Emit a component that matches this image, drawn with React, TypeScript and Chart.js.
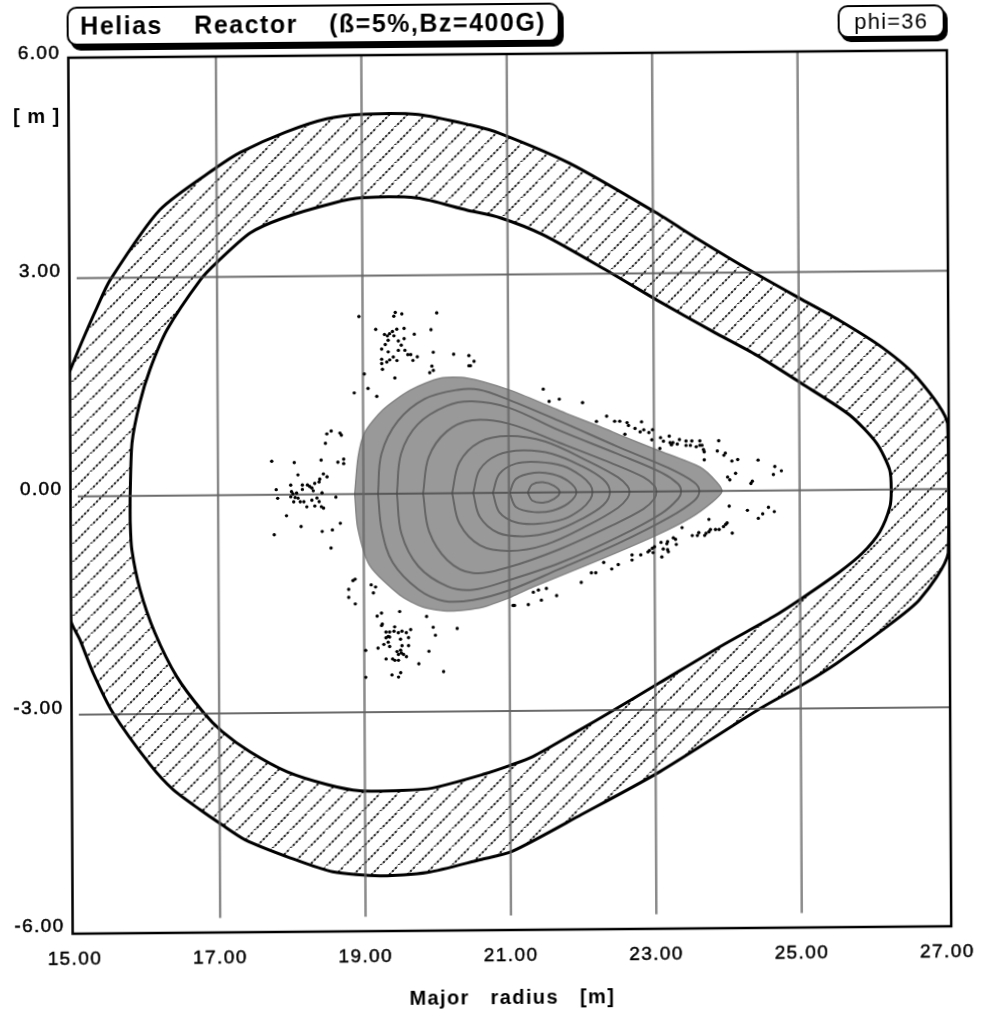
import React, { useEffect, useRef } from "react";
import { Chart, registerables } from "chart.js";

Chart.register(...registerables);

type Pt = [number, number];

const titleText = "Helias   Reactor   (ß=5%,Bz=400G)";
const phiText = "phi=36";
const unitText = "[ m ]";
const xAxisTitle = "Major   radius   [m]";
const xTickValues = [15, 17, 19, 21, 23, 25, 27];
const yTickValues = [6, 3, 0, -3, -6];
const xGridValues = [17, 19, 21, 23, 25];
const yGridValues = [3, 0, -3];

const outerBoundary: Pt[] = [
  [14.96, 1.7], [15.14, 2.13], [15.35, 2.6], [15.53, 2.97], [16.22, 3.93], [17.01, 4.51], [17.33, 4.71], [17.95, 4.98],
  [18.52, 5.16], [19.05, 5.22], [19.78, 5.21], [20.49, 5.06], [20.9, 4.94], [21.86, 4.52], [23.03, 3.84], [23.64, 3.45],
  [24.33, 3.03], [25.01, 2.64], [25.56, 2.33], [26.15, 1.95], [26.62, 1.54], [27.04, 0.9], [27.04, -0.88], [26.64, -1.52],
  [26.13, -1.93], [25.5, -2.38], [25.03, -2.67], [24.45, -2.99], [23.06, -3.85], [21.98, -4.43], [21.02, -4.93], [20.58, -5.04],
  [19.85, -5.21], [19.2, -5.25], [18.55, -5.19], [17.96, -4.99], [17.35, -4.74], [17.03, -4.53], [16.73, -4.32], [16.36, -4.04],
  [16.05, -3.7], [15.54, -2.98], [15.27, -2.43], [15.09, -1.97], [14.96, -1.68], [14.96, 1.7],
];

const innerBoundary: Pt[] = [
  [15.79, -0.01], [15.82, 0.73], [15.93, 1.28], [16.07, 1.73], [16.31, 2.28], [16.77, 2.96], [17.0, 3.2], [17.46, 3.6],
  [17.91, 3.8], [18.6, 4.0], [19.0, 4.07], [19.76, 4.06], [20.44, 3.89], [20.9, 3.78], [21.49, 3.54], [22.4, 3.02],
  [23.05, 2.63], [23.82, 2.19], [24.42, 1.86], [25.03, 1.47], [25.69, 1.03], [26.06, 0.64], [26.24, 0.27], [26.26, -0.01],
  [26.24, -0.24], [26.1, -0.58], [25.86, -0.87], [25.54, -1.13], [25.03, -1.48], [24.62, -1.74], [23.93, -2.12], [23.06, -2.63],
  [22.41, -3.01], [21.92, -3.29], [21.31, -3.63], [21.02, -3.74], [20.62, -3.87], [19.93, -4.05], [19.52, -4.08], [18.93, -4.08],
  [18.48, -3.99], [17.93, -3.81], [17.42, -3.53], [17.04, -3.25], [16.78, -2.98], [16.42, -2.49], [16.12, -1.88], [15.92, -1.29],
  [15.81, -0.74], [15.79, -0.37], [15.79, -0.01],
];

const plasmaEdge: Pt[] = [
  [18.88, 0], [18.93, 0.51], [19.02, 0.84], [19.27, 1.15], [19.65, 1.42], [20.06, 1.58], [20.43, 1.58], [21.02, 1.41],
  [21.57, 1.18], [21.8, 1.08], [22.25, 0.9], [22.6, 0.75], [23.04, 0.57], [23.63, 0.33], [23.86, 0.12], [23.93, -0.01], [23.8, -0.15],
  [23.49, -0.37], [23.03, -0.6], [22.25, -0.93], [21.32, -1.3], [21.03, -1.43], [20.63, -1.57], [20.18, -1.62], [19.81, -1.56],
  [19.49, -1.39], [19.08, -0.98], [18.92, -0.47], [18.88, 0],
];

const contour1: Pt[] = [[21.26, 0], [21.32, 0.11], [21.47, 0.14], [21.62, 0.09], [21.7, 0], [21.62, -0.09], [21.47, -0.14], [21.32, -0.11], [21.26, 0]];
const contour2: Pt[] = [[21.01, 0], [21.1, 0.19], [21.35, 0.27], [21.6, 0.25], [21.82, 0.15], [21.93, 0], [21.82, -0.15], [21.6, -0.25], [21.35, -0.27], [21.1, -0.2], [21.01, 0]];
const contour3: Pt[] = [[20.78, 0], [20.87, 0.26], [21.1, 0.4], [21.4, 0.42], [21.75, 0.36], [22.0, 0.22], [22.12, 0.1], [22.15, 0], [22.12, -0.1], [22.0, -0.23], [21.75, -0.37], [21.4, -0.43], [21.1, -0.41], [20.87, -0.27], [20.78, 0]];
const contour4: Pt[] = [[20.51, 0], [20.6, 0.32], [20.85, 0.52], [21.2, 0.58], [21.6, 0.53], [22.0, 0.36], [22.3, 0.17], [22.39, 0], [22.3, -0.18], [22.0, -0.37], [21.6, -0.54], [21.2, -0.6], [20.85, -0.55], [20.6, -0.33], [20.51, 0]];
const contour5: Pt[] = [[20.22, 0], [20.32, 0.42], [20.6, 0.7], [21.0, 0.78], [21.5, 0.7], [22.1, 0.42], [22.5, 0.2], [22.63, 0.08], [22.66, 0], [22.63, -0.09], [22.5, -0.22], [22.1, -0.45], [21.5, -0.72], [21.0, -0.8], [20.6, -0.72], [20.32, -0.42], [20.22, 0]];
const contour6: Pt[] = [[19.82, 0], [19.9, 0.5], [20.15, 0.85], [20.5, 1.0], [21.0, 0.95], [21.7, 0.68], [22.4, 0.4], [22.85, 0.2], [23.0, 0.08], [23.03, 0], [23.0, -0.1], [22.85, -0.24], [22.4, -0.47], [21.7, -0.78], [21.0, -1.02], [20.5, -1.1], [20.15, -0.92], [19.9, -0.52], [19.82, 0]];
const contour7: Pt[] = [[19.46, 0], [19.52, 0.55], [19.75, 0.95], [20.15, 1.2], [20.5, 1.26], [21.0, 1.17], [21.7, 0.85], [22.5, 0.52], [23.1, 0.26], [23.33, 0.1], [23.37, 0], [23.33, -0.1], [23.1, -0.3], [22.5, -0.62], [21.7, -0.97], [21.0, -1.2], [20.5, -1.33], [20.15, -1.28], [19.75, -1.0], [19.52, -0.55], [19.46, 0]];
const contour8: Pt[] = [[19.2, 0], [19.25, 0.55], [19.48, 1.0], [19.85, 1.3], [20.3, 1.42], [20.6, 1.42], [21.0, 1.28], [21.7, 0.98], [22.5, 0.62], [23.2, 0.32], [23.55, 0.12], [23.62, 0], [23.55, -0.13], [23.2, -0.36], [22.5, -0.71], [21.7, -1.05], [21.0, -1.34], [20.5, -1.47], [20.1, -1.48], [19.75, -1.32], [19.4, -0.95], [19.25, -0.5], [19.2, 0]];

const particlesTop: Pt[] = [
  [18.95, 2.44], [19.45, 2.49], [19.43, 2.44], [19.54, 2.47], [20.02, 2.48], [19.18, 2.26], [19.57, 2.27], [19.94, 2.25], [19.41, 2.23], [19.47, 2.26],
  [19.37, 2.2], [19.3, 2.19], [19.34, 2.17], [19.43, 2.17], [19.35, 2.11], [19.71, 2.19], [19.57, 2.13], [19.31, 2.05], [19.49, 2.1], [19.53, 2.04],
  [19.26, 1.99], [19.35, 1.95], [19.49, 1.97], [19.58, 1.97], [19.62, 1.91], [19.66, 1.91], [19.75, 1.88], [19.69, 1.83], [19.47, 1.83], [19.42, 1.88],
  [19.37, 1.84], [19.33, 1.81], [19.26, 1.85], [19.26, 1.79], [19.27, 1.71], [19.97, 1.94], [20.25, 1.91], [20.46, 1.89], [20.53, 1.81], [20.46, 1.75],
  [20.48, 1.75], [19.95, 1.75], [19.97, 1.69], [19.92, 1.66], [19.44, 1.59], [19.02, 1.65], [19.07, 1.45], [18.88, 1.39], [19.19, 1.34],
];

const particlesLeft: Pt[] = [
  [18.5, 0.83], [18.56, 0.87], [18.68, 0.84], [18.7, 0.81], [18.48, 0.7], [17.74, 0.46], [18.05, 0.44], [18.42, 0.47], [18.65, 0.44], [18.73, 0.48],
  [18.73, 0.42], [18.1, 0.27], [18.45, 0.28], [18.5, 0.24], [18.4, 0.21], [18.39, 0.17], [18.0, 0.13], [18.16, 0.13], [18.23, 0.13], [18.26, 0.11],
  [18.33, 0.15], [18.16, 0.07], [18.29, 0.09], [18.31, 0.05], [17.8, 0.07], [18.01, 0.04], [18.03, 0.01], [18.08, 0.02], [18.0, -0.03], [18.06, -0.04],
  [18.1, -0.05], [17.82, -0.05], [18.04, -0.1], [18.13, -0.1], [18.18, -0.1], [18.29, -0.08], [18.36, -0.05], [18.39, -0.1], [18.43, 0.02], [18.62, -0.04],
  [18.22, -0.17], [18.33, -0.16], [18.42, -0.17], [18.45, -0.19], [17.94, -0.29], [18.14, -0.44], [17.77, -0.55], [18.68, -0.4], [18.43, -0.51], [18.57, -0.49],
  [18.55, -0.74],
];

const particlesBottom: Pt[] = [
  [18.85, -1.19], [18.88, -1.17], [18.79, -1.31], [18.79, -1.42], [18.88, -1.51], [19.1, -1.25], [19.16, -1.28], [19.13, -1.36], [19.02, -2.15], [19.02, -2.52],
  [19.49, -1.62], [19.24, -1.64], [19.18, -1.68], [19.86, -1.69], [19.95, -1.84], [19.98, -1.95], [20.28, -1.86], [19.25, -1.79], [19.24, -1.81], [19.42, -1.83],
  [19.3, -1.9], [19.35, -1.9], [19.41, -1.89], [19.47, -1.91], [19.52, -1.89], [19.58, -1.91], [19.64, -1.87], [19.61, -1.98], [19.5, -2.0], [19.33, -1.96],
  [19.3, -1.98], [19.35, -1.97], [19.33, -2.04], [19.27, -2.07], [19.35, -2.1], [19.19, -2.12], [19.52, -2.09], [19.61, -2.09], [19.5, -2.15], [19.45, -2.17],
  [19.47, -2.21], [19.51, -2.19], [19.58, -2.24], [19.3, -2.27], [19.39, -2.27], [19.42, -2.29], [19.47, -2.29], [19.54, -2.21], [19.89, -2.17], [19.75, -2.34],
  [20.09, -2.45], [19.38, -2.49], [19.5, -2.46], [19.47, -2.52],
];

const particlesRightUpper: Pt[] = [
  [21.48, 1.42], [21.56, 1.25], [21.7, 1.28], [22.02, 1.23], [22.35, 1.04], [22.21, 0.97], [22.46, 0.97], [22.53, 0.97], [22.63, 0.95], [22.65, 0.91],
  [22.74, 0.87], [22.81, 0.82], [22.86, 0.85], [22.83, 0.96], [22.93, 0.81], [22.98, 0.85], [22.6, 0.79], [22.97, 0.71], [23.09, 0.74], [23.21, 0.76],
  [23.35, 0.71], [23.13, 0.69], [23.22, 0.67], [23.24, 0.64], [23.26, 0.67], [23.32, 0.65], [23.44, 0.69], [23.52, 0.69], [23.63, 0.69], [23.44, 0.63],
  [23.5, 0.63], [23.58, 0.61], [23.63, 0.63], [23.66, 0.63], [23.68, 0.57], [23.69, 0.54], [23.89, 0.69], [23.87, 0.55], [23.96, 0.49], [23.98, 0.52],
  [23.69, 0.43], [24.07, 0.41], [24.15, 0.43], [24.43, 0.42], [24.66, 0.33], [24.75, 0.27], [24.64, 0.22], [24.12, 0.24], [24.01, 0.19], [24.04, 0.15],
  [24.33, 0.1], [24.35, 0.13], [23.08, 0.59],
];

const particlesRightLower: Pt[] = [
  [24.03, -0.21], [24.28, -0.27], [24.57, -0.23], [24.65, -0.29], [24.49, -0.32], [24.43, -0.38], [23.75, -0.39], [23.38, -0.5], [24.0, -0.44], [23.98, -0.46],
  [23.95, -0.49], [23.89, -0.53], [23.84, -0.53], [23.77, -0.53], [23.75, -0.56], [23.71, -0.58], [23.69, -0.61], [23.61, -0.57], [23.59, -0.61], [23.52, -0.61],
  [24.07, -0.58], [23.26, -0.64], [23.29, -0.66], [23.3, -0.73], [23.18, -0.69], [23.17, -0.72], [23.09, -0.7], [23.0, -0.76], [22.97, -0.78], [22.93, -0.81],
  [22.91, -0.83], [22.98, -0.84], [23.12, -0.79], [23.18, -0.8], [23.19, -0.83], [23.1, -0.9], [22.81, -0.87], [22.69, -0.87], [22.69, -0.94], [22.5, -1.0],
  [22.41, -1.06], [22.3, -0.97], [22.19, -1.11], [22.13, -1.11], [21.99, -1.24], [21.51, -1.32], [21.4, -1.34], [21.33, -1.37], [21.65, -1.42], [21.05, -1.55],
  [21.07, -1.55], [21.26, -1.54], [21.44, -1.48],
];

const contours = [contour1, contour2, contour3, contour4, contour5, contour6, contour7, contour8];
const particles = [...particlesTop, ...particlesLeft, ...particlesBottom, ...particlesRightUpper, ...particlesRightLower];

const toXY = (pts: Pt[]) => pts.map(([x, y]) => ({ x, y }));

const makeHatch = (ctx: CanvasRenderingContext2D) => {
  const tile = document.createElement("canvas");
  tile.width = 18;
  tile.height = 18;
  const t = tile.getContext("2d")!;
  t.fillStyle = "#bbb";
  for (let i = 0; i < 18; i += 1) t.fillRect(i, 17 - i, 2, 2);
  t.fillStyle = "#333";
  for (let i = 0; i < 18; i += 3) t.fillRect(i, 17 - i, 2, 2);
  return ctx.createPattern(tile, "repeat")!;
};

const framePlugin = {
  id: "frame",
  beforeDraw(chart: any) {
    chart.ctx.letterSpacing = "1.4px";
  },
  afterDatasetsDraw(chart: any) {
    const { ctx, chartArea: a } = chart;
    ctx.save();
    ctx.strokeStyle = "#000";
    ctx.lineWidth = 2.5;
    ctx.strokeRect(a.left, a.top, a.right - a.left, a.bottom - a.top);
    ctx.restore();
  },
};

export default function App() {
  const ref = useRef<HTMLCanvasElement>(null);

  useEffect(() => {
    const canvas = ref.current!;
    const ctx = canvas.getContext("2d")!;
    const closedLine = (label: string, pts: Pt[], order: number, extra: any) => ({
      type: "scatter",
      label,
      data: toXY(pts),
      order,
      showLine: true,
      pointRadius: 0,
      tension: 0.25,
      ...extra,
    });
    const datasets: any[] = [
      closedLine("Outer", outerBoundary, 100, { fill: "shape", backgroundColor: makeHatch(ctx), borderColor: "#000", borderWidth: 3 }),
      closedLine("Inner", innerBoundary, 90, { fill: "shape", backgroundColor: "#fff", borderColor: "#000", borderWidth: 3 }),
      closedLine("Plasma", plasmaEdge, 80, { fill: "shape", backgroundColor: "#999", borderColor: "#858585", borderWidth: 1.5 }),
      ...contours.map((c, i) =>
        closedLine(`Contour ${i + 1}`, c, 70, { fill: false, borderColor: "#666", borderWidth: 2, tension: 0.35 })
      ),
      ...xGridValues.map((v) => ({
        type: "scatter",
        label: `x=${v}`,
        data: [{ x: v, y: -5.81 }, { x: v, y: 6.03 }],
        order: 60,
        showLine: true,
        pointRadius: 0,
        borderColor: "rgba(100,100,100,0.75)",
        borderWidth: 2.5,
      })),
      ...yGridValues.map((v) => ({
        type: "scatter",
        label: `y=${v}`,
        data: [{ x: 15.07, y: v }, { x: 27.05, y: v }],
        order: 60,
        showLine: true,
        pointRadius: 0,
        borderColor: "rgba(70,70,70,0.8)",
        borderWidth: 2,
      })),
      {
        type: "scatter",
        label: "Particles",
        data: toXY(particles),
        order: 50,
        pointRadius: 1.7,
        pointBorderWidth: 0,
        pointBackgroundColor: "#000",
      },
    ];
    const chart = new Chart(canvas, {
      type: "scatter",
      data: { datasets },
      plugins: [framePlugin],
      options: {
        animation: false,
        responsive: false,
        layout: { padding: { left: 0, right: 33.5, top: 54, bottom: 0 } },
        plugins: { legend: { display: false }, tooltip: { enabled: false } },
        scales: {
          x: {
            type: "linear",
            min: 14.97,
            max: 27.055,
            afterBuildTicks: (s: any) => {
              s.ticks = xTickValues.map((value) => ({ value }));
            },
            afterFit: (s: any) => {
              s.height = 83;
            },
            grid: { display: false, drawTicks: false },
            border: { display: false },
            ticks: {
              autoSkip: false,
              maxRotation: 0,
              padding: 14,
              color: "#000",
              textStrokeColor: "#000",
              textStrokeWidth: 0.5,
              font: { family: "'Liberation Sans'", size: 19 },
              callback: (v: any) => Number(v).toFixed(2),
            },
            title: {
              display: true,
              text: xAxisTitle,
              color: "#000",
              padding: { top: 0, bottom: 3 },
              font: { family: "'Liberation Sans'", size: 20, weight: "bold" },
            },
          },
          y: {
            type: "linear",
            min: -6.01,
            max: 6.03,
            afterBuildTicks: (s: any) => {
              s.ticks = yTickValues.map((value) => ({ value }));
            },
            afterFit: (s: any) => {
              s.width = 70.5;
            },
            grid: { display: false, drawTicks: false },
            border: { display: false },
            ticks: {
              autoSkip: false,
              padding: 8,
              color: "#000",
              textStrokeColor: "#000",
              textStrokeWidth: 0.5,
              font: { family: "'Liberation Sans'", size: 19, lineHeight: 0.7 },
              callback: (v: any) => [Number(v).toFixed(2), ""],
            },
          },
        },
      } as any,
    } as any);
    return () => chart.destroy();
  }, []);

  const box = (left: number, top: number, width: number, height: number, shadow: string): React.CSSProperties => ({
    position: "absolute",
    left,
    top,
    width,
    height,
    boxSizing: "border-box",
    border: "2.5px solid #000",
    borderRadius: 10,
    boxShadow: shadow,
    background: "#fff",
    display: "flex",
    alignItems: "center",
    justifyContent: "center",
    whiteSpace: "pre",
    color: "#000",
    fontFamily: "'Liberation Sans', sans-serif",
  });

  return (
    <div style={{ position: "fixed", inset: 0, overflow: "hidden", background: "#fff" }}>
      <div
        style={{
          position: "absolute",
          left: 0,
          top: 0,
          width: 983,
          height: 1013,
          transform: "matrix(1,-0.0085,0.005,1,0,0)",
          transformOrigin: "510px 492px",
        }}
      >
        <canvas ref={ref} width={983} height={1013} style={{ display: "block", position: "absolute", left: 0, top: 0 }} />
        <div style={{ ...box(69, 3, 493, 39, "4px 5px 0 #000"), fontWeight: "bold", fontSize: 25, letterSpacing: "1.5px", wordSpacing: "2px" }}>{titleText}</div>
        <div style={{ ...box(840, 8, 107, 33, "3px 4px 0 #000"), fontSize: 22, letterSpacing: "1.2px" }}>{phiText}</div>
        <div
          style={{
            position: "absolute",
            left: 15,
            top: 101,
            fontFamily: "'Liberation Sans', sans-serif",
            fontWeight: "bold",
            fontSize: 20,
            letterSpacing: "1px",
            whiteSpace: "pre",
          }}
        >
          {unitText}
        </div>
      </div>
    </div>
  );
}
